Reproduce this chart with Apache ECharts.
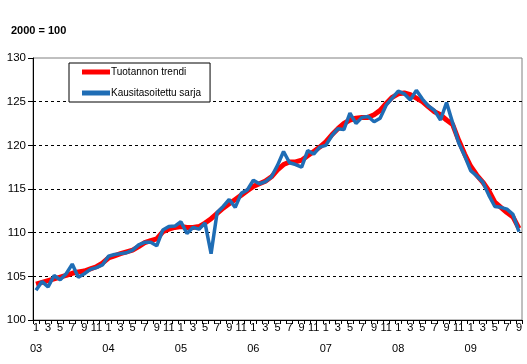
<!DOCTYPE html>
<html>
<head>
<meta charset="utf-8">
<script src="https://cdn.jsdelivr.net/npm/echarts@6/dist/echarts.min.js"></script>
<style>
html,body{margin:0;padding:0;background:#fff;}
#c{width:527px;height:364px;}
</style>
</head>
<body>
<div id="c"></div>
<script>
var years = ['03','04','05','06','07','08','09'];
var months = [];
for (var yi = 0; yi < years.length; yi++) {
  var nm = (yi === years.length - 1) ? 9 : 12;
  for (var m = 1; m <= nm; m++) months.push(m + '|' + years[yi]);
}
var trendi = [
  104.1, 104.3, 104.5, 104.7, 104.9, 105.1, 105.35, 105.5, 105.6, 105.85, 106.1, 106.5,
  107.1, 107.35, 107.6, 107.8, 108.0, 108.4, 108.85, 109.1, 109.3, 110.1, 110.4, 110.6,
  110.7, 110.6, 110.6, 110.7, 111.1, 111.6, 112.2, 112.8, 113.3, 113.8, 114.3, 114.8,
  115.3, 115.6, 115.9, 116.4, 117.2, 117.8, 118.1, 118.1, 118.3, 118.8, 119.3, 119.8,
  120.4, 121.2, 121.9, 122.5, 122.9, 123.1, 123.2, 123.2, 123.5, 124.0, 124.8, 125.5,
  125.9, 126.0, 125.8, 125.4, 125.0, 124.4, 123.85, 123.5, 122.9, 122.4, 120.6, 119.0,
  117.6, 116.6, 115.8, 114.8, 113.5, 112.9, 112.3, 111.8, 110.5
];
var kausi = [
  103.4, 104.4, 103.8, 105.1, 104.6, 105.3, 106.4, 104.9, 105.3, 105.8, 106.0, 106.3,
  107.3, 107.5, 107.6, 107.7, 108.0, 108.6, 108.9, 108.9, 108.5, 110.3, 110.7, 110.75,
  111.25, 109.9, 110.6, 110.4, 111.1, 107.6, 112.3, 113.0, 113.8, 112.9, 114.5, 114.9,
  116.0, 115.6, 115.85, 116.4, 117.7, 119.3, 118.0, 117.8, 117.5, 119.4, 119.0, 119.8,
  120.0, 121.1, 121.9, 121.8, 123.7, 122.5, 123.2, 123.3, 122.7, 123.1, 124.6, 125.4,
  126.2, 125.9, 125.2, 126.3, 125.3, 124.5, 124.0, 122.9, 124.9, 122.6, 120.3, 118.8,
  117.1, 116.5, 115.8, 114.3, 113.0, 112.9, 112.7, 112.1, 110.1
];
var seriesNames = ['Tuotannon trendi', 'Kausitasoitettu sarja'];
var yTicks = {min: 100, max: 130, step: 5};
var titleText = '2000 = 100';

var arial = "'Liberation Sans', Arial, sans-serif";

var chart = echarts.init(document.getElementById('c'), null, {renderer: 'canvas'});
chart.setOption({
  animation: false,
  backgroundColor: '#ffffff',
  title: {
    text: titleText, left: 11, top: 25,
    textStyle: {fontFamily: arial, fontSize: 11, fontWeight: 'bold', color: '#000'},
    padding: 0
  },
  legend: {
    orient: 'vertical', left: 69, top: 63,
    data: [
      {name: seriesNames[0], icon: 'rect', itemStyle: {color: '#ff0000'}},
      {name: seriesNames[1], icon: 'rect', itemStyle: {color: '#1f6db5'}}
    ],
    itemWidth: 28, itemHeight: 5, itemGap: 9,
    padding: [3, 9, 3, 13],
    borderColor: '#000', borderWidth: 1, borderRadius: 0,
    backgroundColor: '#fff',
    textStyle: {fontFamily: arial, fontSize: 10, color: '#000', padding: [0, 0, 0, -4], lineHeight: 12},
    selectedMode: false
  },
  grid: {
    left: 33, right: 5, top: 58, bottom: 44,
    show: true, borderColor: '#808080', borderWidth: 1, backgroundColor: 'transparent'
  },
  xAxis: {
    type: 'category', data: months, boundaryGap: true,
    axisLine: {show: true, lineStyle: {color: '#000', width: 1}},
    axisTick: {show: true, interval: 0, length: 4, lineStyle: {color: '#000'}},
    axisLabel: {
      interval: 1, margin: 2, color: '#000', fontFamily: arial, fontSize: 11,
      formatter: function (v) {
        var p = v.split('|');
        return p[0] === '1' ? '{m|' + p[0] + '}\n{y|' + p[1] + '}' : '{m|' + p[0] + '}';
      },
      rich: {
        m: {fontFamily: arial, fontSize: 11, lineHeight: 12, color: '#000'},
        y: {fontFamily: arial, fontSize: 11, lineHeight: 30, color: '#000'}
      }
    },
    splitLine: {show: false}
  },
  yAxis: {
    type: 'value', min: yTicks.min, max: yTicks.max, interval: yTicks.step,
    axisLine: {show: true, lineStyle: {color: '#000', width: 1}},
    axisTick: {show: true, length: 5, lineStyle: {color: '#000'}},
    axisLabel: {margin: 7, color: '#000', fontFamily: arial, fontSize: 11.5},
    splitLine: {show: true, showMinLine: false, showMaxLine: false,
      lineStyle: {color: '#000', type: [3, 3], width: 1}}
  },
  series: [
    {name: seriesNames[0], type: 'line', data: trendi, symbol: 'none', smooth: false,
     lineStyle: {color: '#ff0000', width: 5}, itemStyle: {color: '#ff0000'}, z: 2},
    {name: seriesNames[1], type: 'line', data: kausi, symbol: 'none', smooth: false,
     lineStyle: {color: '#1f6db5', width: 3.5}, itemStyle: {color: '#1f6db5'}, z: 3}
  ]
});
</script>
</body>
</html>
